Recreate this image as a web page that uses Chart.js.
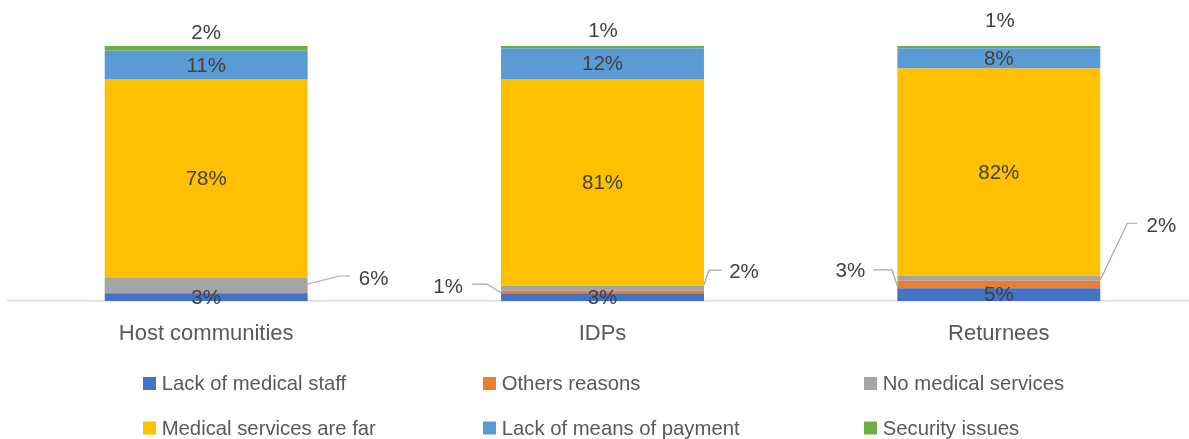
<!DOCTYPE html>
<html>
<head>
<meta charset="utf-8">
<script src="https://cdn.jsdelivr.net/npm/chart.js@4.4.1/dist/chart.umd.min.js"></script>
<style>
  html, body { margin: 0; padding: 0; background: #ffffff; overflow: hidden; }
  #wrap { position: relative; width: 1189px; height: 439px; overflow: hidden; }
  #c { position: absolute; left: 0; top: 0; }
</style>
</head>
<body>
<div id="wrap"><canvas id="c" width="1206" height="439"></canvas></div>
<script>
// ---- data ----
const categories = ['Host communities', 'IDPs', 'Returnees'];
const seriesNames = ['Lack of medical staff', 'Others reasons', 'No medical services',
                     'Medical services are far', 'Lack of means of payment', 'Security issues'];
const lackOfMedicalStaff = [3, 3, 5];
const othersReasons = [0, 1, 3];
const noMedicalServices = [6, 2, 2];
const medicalServicesFar = [78, 81, 82];
const lackOfMeansOfPayment = [11, 12, 8];
const securityIssues = [2, 1, 1];

// ---- styles ----
const colors = ['#4472C4', '#ED7D31', '#A5A5A5', '#FFC000', '#5B9BD5', '#70AD47'];
const FONT = '"Liberation Sans", Arial, sans-serif';
const labelColor = '#404040';
const axisColor = '#595959';
const leaderColor = '#A6A6A6';

const rawSeries = [lackOfMedicalStaff, othersReasons, noMedicalServices,
                   medicalServicesFar, lackOfMeansOfPayment, securityIssues];
// 100% stacked: each category normalised to its total
const totals = categories.map((_, j) => rawSeries.reduce((s, arr) => s + arr[j], 0));

const datasets = rawSeries.map((arr, i) => ({
  label: seriesNames[i],
  data: arr.map((v, j) => v / totals[j] * 100),
  raw: arr,
  backgroundColor: colors[i],
  borderWidth: 0,
  barPercentage: 0.512,
  categoryPercentage: 1.0
}));

// label placement (offsets in px relative to the segment anchor)
const placements = {
  '2-0': { anchor: 'right', text: [66, -6.7], line: [[0, -1.7], [32, -9.7], [42, -9.7]] },
  '1-1': { anchor: 'left',  text: [-53, -5],  line: [[0, 0.7], [-14.3, -8], [-29.3, -8]] },
  '2-1': { anchor: 'right', text: [40, -16],  line: [[0, -3.2], [5, -18.2], [17.7, -18.2]] },
  '1-2': { anchor: 'left',  text: [-47, -12.9], line: [[0, 1.4], [-5.3, -14.6], [-24, -14.6]] },
  '2-2': { anchor: 'right', text: [61, -52.3], line: [[0, 1.75], [27, -55], [37, -55]] },
  '5-0': { anchor: 'top', text: [0, -12.4] },
  '5-1': { anchor: 'top', text: [0.5, -14] },
  '5-2': { anchor: 'top', text: [1, -24] }
};

const labelPlugin = {
  id: 'segLabels',
  afterDatasetsDraw(chart) {
    const ctx = chart.ctx;
    ctx.save();
    ctx.font = '20.5px ' + FONT;
    ctx.textAlign = 'center';
    ctx.textBaseline = 'middle';
    chart.data.datasets.forEach((ds, i) => {
      const meta = chart.getDatasetMeta(i);
      meta.data.forEach((el, j) => {
        const v = ds.raw[j];
        if (!v) return;
        const txt = v + '%';
        const top = Math.min(el.y, el.base), bot = Math.max(el.y, el.base);
        const cy = (top + bot) / 2;
        const p = placements[i + '-' + j];
        let ax = el.x, ay = cy;
        if (!p) {
          ctx.fillStyle = labelColor;
          ctx.fillText(txt, el.x, cy + 1);
          return;
        }
        if (p.anchor === 'right') ax = el.x + el.width / 2;
        else if (p.anchor === 'left') ax = el.x - el.width / 2;
        else if (p.anchor === 'top') { ax = el.x; ay = top; }
        if (p.line) {
          ctx.strokeStyle = leaderColor;
          ctx.lineWidth = 1.2;
          ctx.beginPath();
          p.line.forEach((pt, k) => {
            const X = ax + pt[0], Y = ay + pt[1];
            if (k === 0) ctx.moveTo(X, Y); else ctx.lineTo(X, Y);
          });
          ctx.stroke();
        }
        ctx.fillStyle = labelColor;
        ctx.fillText(txt, ax + p.text[0], ay + p.text[1]);
      });
    });
    ctx.restore();
  }
};

// legend drawn on the canvas in Excel-like fixed columns
const legendCols = [143, 483, 864];
const legendRows = [390, 434.5];
const legendPlugin = {
  id: 'gridLegend',
  afterDraw(chart) {
    const ctx = chart.ctx;
    ctx.save();
    ctx.font = '20.3px ' + FONT;
    ctx.textAlign = 'left';
    ctx.textBaseline = 'alphabetic';
    chart.data.datasets.forEach((ds, i) => {
      const x = legendCols[i % 3];
      const y = legendRows[Math.floor(i / 3)];
      ctx.fillStyle = ds.backgroundColor;
      ctx.fillRect(x, y - 13, 13, 13);
      ctx.fillStyle = axisColor;
      ctx.fillText(ds.label, x + 18.7, y);
    });
    ctx.restore();
  }
};

new Chart(document.getElementById('c'), {
  type: 'bar',
  data: { labels: categories, datasets },
  options: {
    responsive: false,
    animation: false,
    layout: { padding: { left: 8, right: 9, top: 45.7, bottom: 78 } },
    plugins: { legend: { display: false }, tooltip: { enabled: false } },
    scales: {
      x: {
        stacked: true,
        grid: { display: false },
        border: { display: true, color: '#D9D9D9', width: 1.5 },
        ticks: { color: axisColor, font: { family: FONT, size: 22 }, padding: 12 },
        afterFit(scale) { scale.height = 60; }
      },
      y: {
        stacked: true, display: false, min: 0, max: 100
      }
    }
  },
  plugins: [labelPlugin, legendPlugin]
});
</script>
</body>
</html>
